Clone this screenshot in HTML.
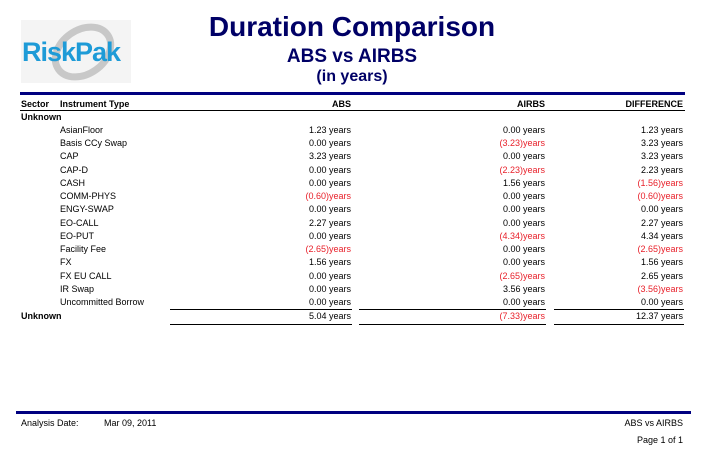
<!DOCTYPE html>
<html><head><meta charset="utf-8"><style>
body{margin:0;width:705px;height:465px;background:#fff;position:relative;overflow:hidden;font-family:"Liberation Sans",sans-serif;font-size:9px;color:#000}
.a{position:absolute;white-space:nowrap}
.t{color:#000066;font-weight:bold;text-align:center;width:400px;left:152px}
.r{text-align:right}
.neg{color:#e8202a}
.b{font-weight:bold}
.ln{position:absolute;background:#000;height:1px}
</style></head><body>
<div class="a" style="left:21px;top:20px;width:110px;height:63px;background:#f4f4f4">
<svg width="110" height="63"><ellipse cx="62" cy="32" rx="30" ry="22" fill="none" stroke="#c8c8c8" stroke-width="7" transform="rotate(-35 62 32)"/></svg>
<div class="a" style="left:1px;top:17px;font-size:27px;font-weight:bold;color:#1e9bd7;letter-spacing:-1px">RiskPak</div>
</div>
<div class="a t" style="top:11px;font-size:28px">Duration Comparison</div>
<div class="a t" style="top:46px;font-size:19px">ABS vs AIRBS</div>
<div class="a t" style="top:68px;font-size:16px">(in years)</div>
<div class="ln" style="left:20px;top:92px;width:665px;height:3px;background:#000080"></div>
<div class="a b" style="left:21px;top:99px">Sector</div>
<div class="a b" style="left:60px;top:99px">Instrument Type</div>
<div class="a b r" style="right:354px;top:99px">ABS</div>
<div class="a b r" style="right:160px;top:99px">AIRBS</div>
<div class="a b r" style="right:22px;top:99px">DIFFERENCE</div>
<div class="ln" style="left:20px;top:110px;width:665px"></div>
<div class="a b" style="left:21px;top:112px">Unknown</div>
<div id="rows"></div>
<div class="ln" style="left:170px;top:309px;width:182px"></div>
<div class="ln" style="left:359px;top:309px;width:187px"></div>
<div class="ln" style="left:554px;top:309px;width:130px"></div>
<div class="a b" style="left:21px;top:311px">Unknown</div>
<div class="a r" style="right:354px;top:311px">5.04 years</div>
<div class="a r neg" style="right:160px;top:311px">(7.33)years</div>
<div class="a r" style="right:22px;top:311px">12.37 years</div>
<div class="ln" style="left:170px;top:324px;width:182px"></div>
<div class="ln" style="left:359px;top:324px;width:187px"></div>
<div class="ln" style="left:554px;top:324px;width:130px"></div>
<div class="ln" style="left:16px;top:411px;width:675px;height:3px;background:#000080"></div>
<div class="a" style="left:21px;top:418px">Analysis Date:</div>
<div class="a" style="left:104px;top:418px">Mar 09, 2011</div>
<div class="a r" style="right:22px;top:418px">ABS vs AIRBS</div>
<div class="a r" style="right:22px;top:435px">Page 1 of 1</div>
<script>
const names=["AsianFloor","Basis CCy Swap","CAP","CAP-D","CASH","COMM-PHYS","ENGY-SWAP","EO-CALL","EO-PUT","Facility Fee","FX","FX EU CALL","IR Swap","Uncommitted Borrow"];
const abs=[1.23,0,3.23,0,0,-0.60,0,2.27,0,-2.65,1.56,0,0,0];
const airbs=[0,-3.23,0,-2.23,1.56,0,0,0,-4.34,0,0,-2.65,3.56,0];
const diff=[1.23,3.23,3.23,2.23,-1.56,-0.60,0,2.27,4.34,-2.65,1.56,2.65,-3.56,0];
const c=document.getElementById('rows');
function fmt(v){return v<0?'('+Math.abs(v).toFixed(2)+')years':v.toFixed(2)+' years';}
function cell(txt,style,cls,nm){const d=document.createElement('div');d.className='a '+cls;d.style.cssText=style;d.textContent=txt;


c.appendChild(d);}
names.forEach((n,i)=>{const y=125+i*13.23;
cell(n,'left:60px;top:'+y+'px','', 'instrument-name');
cell(fmt(abs[i]),'right:354px;top:'+y+'px','r'+(abs[i]<0?' neg':''),'abs-value');
cell(fmt(airbs[i]),'right:160px;top:'+y+'px','r'+(airbs[i]<0?' neg':''),'airbs-value');
cell(fmt(diff[i]),'right:22px;top:'+y+'px','r'+(diff[i]<0?' neg':''),'difference-value');});
</script>
</body></html>
